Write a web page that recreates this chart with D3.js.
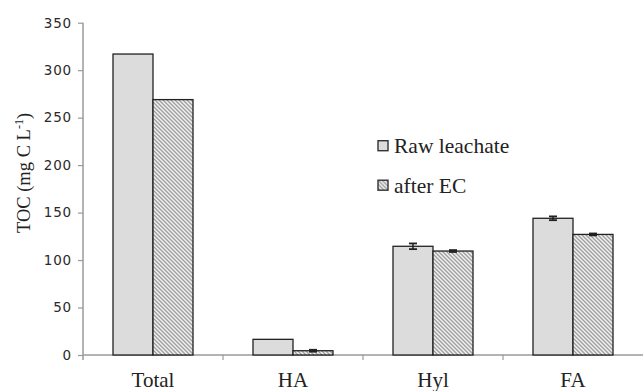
<!DOCTYPE html>
<html>
<head>
<meta charset="utf-8">
<script src="https://cdn.jsdelivr.net/npm/d3@7"></script>
<style>
  html, body { margin: 0; padding: 0; background: #fff; }
  svg { display: block; }
</style>
</head>
<body>
<svg id="chart" width="643" height="391"></svg>
<script>
// TOC by fraction, before and after electrocoagulation
const categories = ["Total", "HA", "Hyl", "FA"];
const seriesNames = ["Raw leachate", "after EC"];
const rawValues = [317, 16.5, 114.5, 144];
const ecValues = [269, 4.5, 109.5, 127];
const rawErrors = [0, 0, 3, 2];
const ecErrors = [0, 1, 1, 1];
const yTicks = [0, 50, 100, 150, 200, 250, 300, 350];

const svg = d3.select("#chart");
const plotLeft = 83, plotRight = 643, plotTop = 22.7, plotBottom = 355;

const y = d3.scaleLinear().domain([0, 350]).range([plotBottom, plotTop]);
const x0 = d3.scaleBand().domain(categories).range([plotLeft, plotRight]).padding(0);
const x1 = d3.scaleBand().domain(seriesNames).range([0, x0.bandwidth()])
  .paddingInner(0).paddingOuter(0.75);

// diagonal hatch fill for the treated series
const defs = svg.append("defs");
const pat = defs.append("pattern")
  .attr("id", "hatch")
  .attr("patternUnits", "userSpaceOnUse")
  .attr("width", 4).attr("height", 4);
pat.append("rect").attr("width", 4).attr("height", 4).attr("fill", "#f2f2f2");
pat.append("path")
  .attr("d", "M0,0 L4,4 M-1,3 L1,5 M3,-1 L5,1")
  .attr("stroke", "#a0a0a0").attr("stroke-width", 1.4);

const fills = { "Raw leachate": "#dcdcdc", "after EC": "url(#hatch)" };

const rows = categories.map((c, i) => ({
  cat: c,
  bars: [
    { s: "Raw leachate", v: rawValues[i], e: rawErrors[i] },
    { s: "after EC", v: ecValues[i], e: ecErrors[i] }
  ]
}));

// axes
const yAxis = d3.axisLeft(y).tickValues(yTicks).tickSize(5).tickPadding(6);
const gy = svg.append("g").attr("transform", `translate(${plotLeft},0)`).call(yAxis);
gy.select(".domain").attr("stroke", "#9a9a9a").attr("stroke-width", 1.5)
  .attr("d", `M0,${plotTop}V${plotBottom + 5}`);
gy.selectAll(".tick line").attr("stroke", "#9a9a9a").attr("stroke-width", 1.2);
gy.selectAll(".tick text")
  .attr("font-family", "DejaVu Sans, sans-serif")
  .attr("font-size", 13.5).attr("letter-spacing", 0.8)
  .attr("fill", "#2a2a2a");

const xAxis = d3.axisBottom(x0).tickSize(0).tickFormat("");
const gx = svg.append("g").attr("transform", `translate(0,${plotBottom})`).call(xAxis);
gx.select(".domain").attr("stroke", "#9a9a9a").attr("stroke-width", 1.5)
  .attr("d", `M${plotLeft},0H${plotRight}`);
gx.selectAll(".tick").remove();
// category boundary ticks
gx.selectAll("line.sep")
  .data(categories.slice(1))
  .join("line")
  .attr("class", "sep")
  .attr("x1", d => x0(d)).attr("x2", d => x0(d))
  .attr("y1", 0).attr("y2", 5)
  .attr("stroke", "#9a9a9a").attr("stroke-width", 1.2);

// bars
const groups = svg.append("g").selectAll("g")
  .data(rows).join("g")
  .attr("transform", d => `translate(${x0(d.cat)},0)`);

groups.selectAll("rect")
  .data(d => d.bars).join("rect")
  .attr("x", d => x1(d.s))
  .attr("y", d => y(d.v))
  .attr("width", x1.bandwidth())
  .attr("height", d => y(0) - y(d.v))
  .attr("fill", d => fills[d.s])
  .attr("stroke", "#222").attr("stroke-width", 1.3);

// error bars
const eb = groups.selectAll("g.err")
  .data(d => d.bars.filter(b => b.e > 0)).join("g").attr("class", "err");
const cx = d => x1(d.s) + x1.bandwidth() / 2;
eb.append("line")
  .attr("x1", cx).attr("x2", cx)
  .attr("y1", d => y(d.v + d.e)).attr("y2", d => y(d.v - d.e))
  .attr("stroke", "#222").attr("stroke-width", 1.5);
eb.selectAll("line.cap")
  .data(d => [{ d, k: d.v + d.e }, { d, k: d.v - d.e }]).join("line")
  .attr("class", "cap")
  .attr("x1", o => cx(o.d) - 4).attr("x2", o => cx(o.d) + 4)
  .attr("y1", o => y(o.k)).attr("y2", o => y(o.k))
  .attr("stroke", "#222").attr("stroke-width", 1.8);

// category labels
svg.append("g").selectAll("text")
  .data(categories).join("text")
  .attr("x", d => x0(d) + x0.bandwidth() / 2)
  .attr("y", 386.5)
  .attr("text-anchor", "middle")
  .attr("font-family", "Liberation Serif, Times New Roman, serif")
  .attr("font-size", 21).attr("fill", "#222")
  .text(d => d);

// y-axis title
const title = svg.append("text")
  .attr("transform", "translate(30,173) rotate(-90)")
  .attr("text-anchor", "middle")
  .attr("font-family", "Liberation Serif, Times New Roman, serif")
  .attr("font-size", 18.5).attr("fill", "#222");
title.append("tspan").text("TOC (mg C L");
title.append("tspan").attr("dy", -7).attr("font-size", 12).text("-1");
title.append("tspan").attr("dy", 7).text(")");

// legend
const legend = svg.append("g").selectAll("g")
  .data(seriesNames).join("g")
  .attr("transform", (d, i) => `translate(378,${140.7 + i * 39.5})`);
legend.append("rect")
  .attr("width", 10).attr("height", 10)
  .attr("fill", d => fills[d])
  .attr("stroke", "#333").attr("stroke-width", 1.4);
legend.append("text")
  .attr("x", 16).attr("y", 12.5)
  .attr("font-family", "Liberation Serif, Times New Roman, serif")
  .attr("font-size", 21.5).attr("fill", "#222")
  .text(d => d);
</script>
</body>
</html>
